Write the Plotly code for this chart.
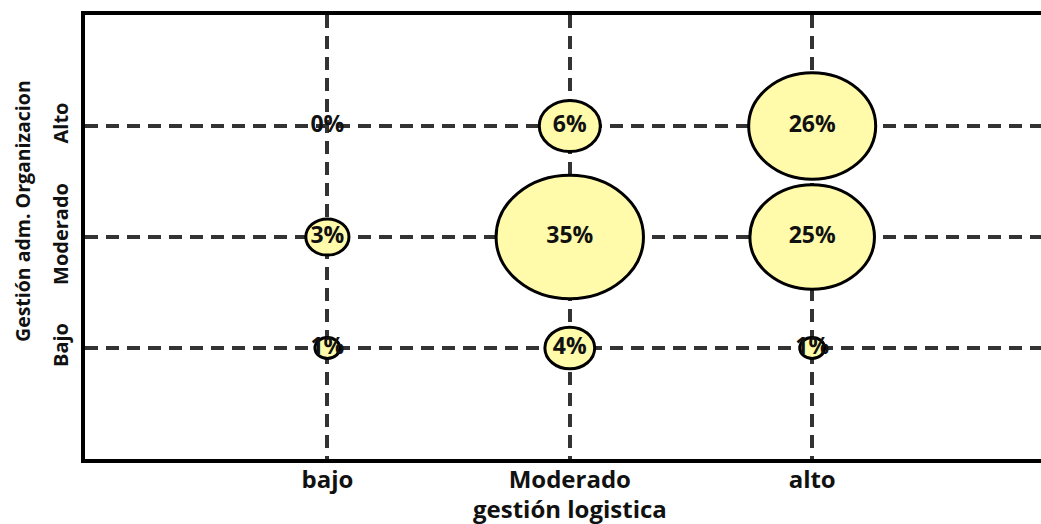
import plotly.graph_objects as go
import math

# ---- data ----
x_labels = ["bajo", "Moderado", "alto"]
y_labels = ["Bajo", "Moderado", "Alto"]
# percentage per cell (x category index, y category index)
x_pos = [1, 2, 3, 1, 2, 3, 1, 2, 3]
y_pos = [1, 1, 1, 2, 2, 2, 3, 3, 3]
pct = [1, 4, 1, 3, 35, 25, 0, 6, 26]

x_title = "gestión logistica"
y_title = "Gestión adm. Organizacion"

# ---- style ----
FONT = "Open Sans"
FILL = "#FFFBAA"
RX_MAX = 0.304   # x-radius (data units) of the largest bubble
RY_MAX = 0.556   # y-radius (data units) of the largest bubble
vmax = max(pct)

fig = go.Figure()

shapes = []
for xv, yv, v in zip(x_pos, y_pos, pct):
    if v <= 0:
        continue
    k = math.sqrt(v / vmax)
    rx, ry = RX_MAX * k, RY_MAX * k
    shapes.append(dict(type="circle", xref="x", yref="y",
                       x0=xv - rx, x1=xv + rx, y0=yv - ry, y1=yv + ry,
                       fillcolor=FILL, line=dict(color="black", width=3),
                       layer="between"))

fig.add_trace(go.Scatter(
    x=x_pos, y=y_pos, mode="text",
    text=[f"{v}%" for v in pct],
    textfont=dict(family=FONT, size=23, color="#111111", weight="bold"),
    hoverinfo="skip", showlegend=False,
))

grid = dict(showgrid=True, gridcolor="#333333", gridwidth=3.5, griddash="13px,8px")

fig.update_layout(
    width=1041, height=524,
    margin=dict(l=85, r=0, t=15, b=65),
    paper_bgcolor="white", plot_bgcolor="white",
    shapes=shapes,
    font=dict(family=FONT, color="black"),
    xaxis=dict(range=[0, 3.944], tickvals=[1, 2, 3], ticktext=x_labels,
               tickfont=dict(family=FONT, size=24, weight="bold", color="#111111"),
               ticks="", ticklabelstandoff=-4,
               showline=True, linecolor="black", linewidth=3.5, mirror=True,
               zeroline=False, automargin=False,
               **grid),
    yaxis=dict(range=[0, 4], tickvals=[1, 2, 3], ticktext=y_labels,
               tickangle=-90,
               tickfont=dict(family=FONT, size=20, weight="bold", color="#111111"),
               ticks="", ticklabelstandoff=5,
               showline=True, linecolor="black", linewidth=3.5,
               zeroline=False, automargin=False,
               **grid),
    annotations=[
        dict(text=x_title, xref="paper", yref="paper", x=0.507, y=0,
             xanchor="center", yanchor="top", yshift=-31, showarrow=False,
             font=dict(family=FONT, size=24, weight="bold", color="#111111")),
        dict(text=y_title, xref="paper", yref="paper", x=0, y=0.5586,
             xanchor="center", yanchor="middle", xshift=-62, textangle=-90,
             showarrow=False,
             font=dict(family=FONT, size=19.5, weight="bold", color="#111111")),
    ],
)

fig.write_html("out.html", config={"displayModeBar": False},
               post_script="document.body.style.margin='0';")
